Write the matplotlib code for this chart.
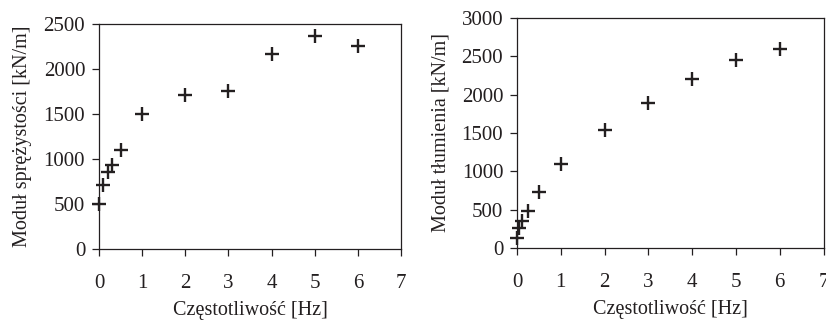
import matplotlib
matplotlib.use('Agg')
import matplotlib.pyplot as plt

# Frequencies [Hz] and measured moduli [kN/m]
freq = [0, 0.1, 0.2, 0.3, 0.5, 1, 2, 3, 4, 5, 6]
stiffness = [500, 710, 860, 930, 1100, 1500, 1715, 1760, 2165, 2370, 2250]
freq_d = [0, 0.05, 0.12, 0.25, 0.5, 1, 2, 3, 4, 5, 6]
damping = [135, 260, 350, 480, 735, 1095, 1545, 1890, 2200, 2450, 2590]

x_ticks = [0, 1, 2, 3, 4, 5, 6, 7]
y_ticks_left = [0, 500, 1000, 1500, 2000, 2500]
y_ticks_right = [0, 500, 1000, 1500, 2000, 2500, 3000]

plt.rcParams['font.family'] = ['Liberation Serif', 'DejaVu Serif']
plt.rcParams['font.size'] = 14.5

ink = '#231f20'
fig = plt.figure(figsize=(8.26, 3.2), dpi=100)
ax1 = fig.add_axes([0.1199, 0.222, 0.3656, 0.703])
ax2 = fig.add_axes([0.626, 0.225, 0.371, 0.719])

for ax, xs, ys, yt, ylabel in [
    (ax1, freq, stiffness, y_ticks_left, 'Moduł sprężystości [kN/m]'),
    (ax2, freq_d, damping, y_ticks_right, 'Moduł tłumienia [kN/m]'),
]:
    ax.plot(xs, ys, linestyle='none', marker='+', markersize=10.5,
            markeredgewidth=1.7, color=ink, clip_on=False, zorder=3)
    ax.set_xlim(0, 7)
    ax.set_ylim(yt[0], yt[-1])
    ax.set_xticks(x_ticks)
    ax.set_yticks(yt)
    ax.tick_params(direction='out', length=5, width=0.9, color=ink,
                   labelcolor=ink, labelsize=15)
    ax.tick_params(axis='x', pad=13)
    ax.tick_params(axis='y', pad=5)
    for s in ax.spines.values():
        s.set_linewidth(0.9)
        s.set_color(ink)
    ax.set_xlabel('Częstotliwość [Hz]', color=ink, labelpad=6)
    ax.set_ylabel(ylabel, color=ink, labelpad=8)

fig.savefig('out.png', dpi=100)
